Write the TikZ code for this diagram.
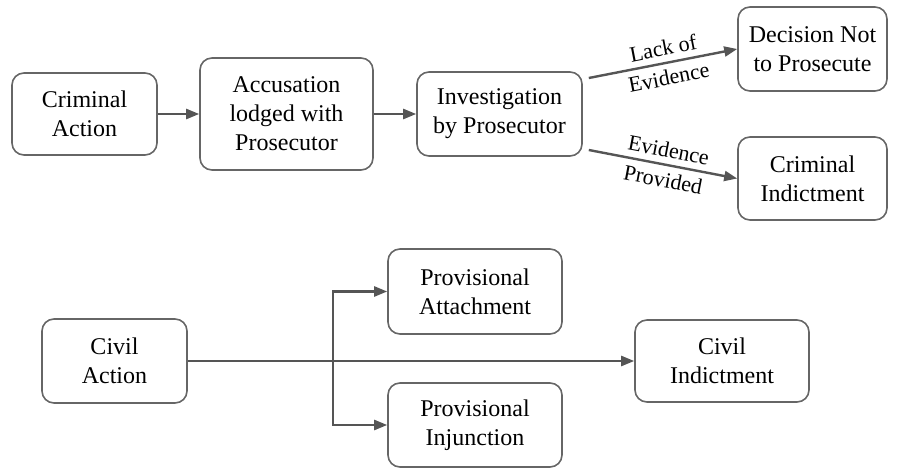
\documentclass[tikz,border=0pt]{standalone}
\usepackage{fontspec}
\setmainfont{Liberation Serif}
\usetikzlibrary{arrows.meta,calc}
\definecolor{boxgray}{HTML}{666666}
\definecolor{arrgray}{HTML}{555555}
\tikzset{
  box/.style={draw=boxgray, line width=1.6pt, rounded corners=12pt, align=center,
    inner sep=0pt, font=\fontsize{24}{29}\selectfont},
  conn/.style={draw=arrgray, line width=2.4pt},
  arr/.style={conn, -{Triangle[length=13pt,width=10pt]}},
  lbl/.style={font=\fontsize{22}{26}\selectfont, sloped, pos=0.52, inner sep=1pt}
}
\begin{document}
\begin{tikzpicture}[x=1pt,y=1pt]
\useasboundingbox (0,0) rectangle (901,-468);
\node[box, minimum width=145pt, minimum height=82pt] (crim) at (84.5,-114) {Criminal\\Action};
\node[box, minimum width=173pt, minimum height=112pt] (acc) at (286.5,-114) {Accusation\\lodged with\\Prosecutor};
\node[box, minimum width=165pt, minimum height=84pt] (inv) at (499.5,-114) {Investigation\\by Prosecutor};
\node[box, minimum width=149pt, minimum height=84pt] (dec) at (812.5,-49) {Decision Not\\to Prosecute};
\node[box, minimum width=149pt, minimum height=83pt] (cind) at (812.5,-178.5) {Criminal\\Indictment};
\node[box, minimum width=174pt, minimum height=85pt] (patt) at (475,-291.5) {Provisional\\Attachment};
\node[box, minimum width=145pt, minimum height=84pt] (civ) at (114.5,-361) {Civil\\Action};
\node[box, minimum width=174pt, minimum height=84pt] (pinj) at (475,-425) {Provisional\\Injunction};
\node[box, minimum width=174pt, minimum height=82pt] (civind) at (722,-361) {Civil\\Indictment};

\draw[arr] (crim.east) -- (acc.west);
\draw[arr] (acc.east) -- (inv.west);
\draw[arr] ($(inv.east)+(6,36)$) -- node[lbl, above=5pt] (l1) {Lack of} node[lbl, below=5pt] (l2) {Evidence} (dec.west);
\draw[arr] ($(inv.east)+(6,-36)$) -- node[lbl, above=5pt] (l3) {Evidence} node[lbl, below=5pt] (l4) {Provided} (cind.west);

\coordinate (br) at (333,-361);
\draw[arr] (civ.east) -- (civind.west);
\draw[arr] (br) |- (patt.west);
\draw[arr] (br) |- (pinj.west);
\end{tikzpicture}
\end{document}
